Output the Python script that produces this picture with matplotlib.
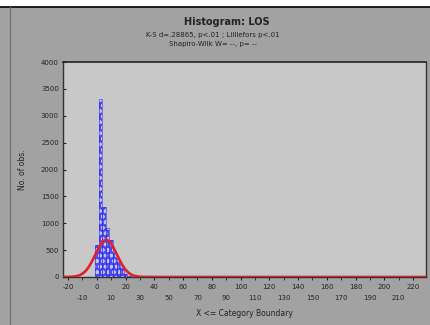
import numpy as np
import matplotlib
matplotlib.use("Agg")
import matplotlib.pyplot as plt
from matplotlib.lines import Line2D

# histogram bins (category centers) and counts
bin_centers = [0, 2.5, 5, 7.5, 10, 12.5, 15, 17.5, 20, 22.5]
counts = [600, 3320, 1300, 920, 680, 450, 280, 170, 60, 20]
bin_width = 2.5

# fitted normal curve (expected counts)
fit_mean = 6.5
fit_sd = 7.5
fit_peak = 690

major_ticks = list(range(-20, 221, 20))
minor_ticks = list(range(-10, 211, 20))
y_ticks = list(range(0, 4001, 500))

fig = plt.figure(figsize=(4.3, 3.25), dpi=100)
fig.patch.set_facecolor("#a2a2a2")

# white strip and black rule at the top, dark left border
fig.patches.append(plt.Rectangle((0, 0.978), 1, 0.022, transform=fig.transFigure,
                                 facecolor="white", edgecolor="none", zorder=0))
fig.lines.append(Line2D([0, 1], [0.977, 0.977], transform=fig.transFigure,
                        color="black", lw=1.2))
fig.lines.append(Line2D([0.024, 0.024], [0, 0.977], transform=fig.transFigure,
                        color="#6e6e6e", lw=0.8))

ax = fig.add_axes([0.1465, 0.1477, 0.8442, 0.6613])
ax.set_facecolor("#c8c8c8")

ax.bar(bin_centers, counts, width=bin_width, facecolor="#4a4af0",
       edgecolor="#c0c0ff", hatch="ooo", linewidth=0, zorder=2)
ax.bar(bin_centers, counts, width=bin_width, facecolor="none",
       edgecolor="#3030d8", linewidth=0.4, zorder=3)

x = np.linspace(-23.5, 229, 800)
y = fit_peak * np.exp(-0.5 * ((x - fit_mean) / fit_sd) ** 2)
ax.plot(x, y, color="#e0202a", lw=1.9, zorder=4)

ax.set_xlim(-23.5, 229)
ax.set_ylim(0, 4000)

ax.set_xticks(major_ticks)
ax.set_xticklabels([str(t) for t in major_ticks])
ax.set_xticks(minor_ticks, minor=True)
ax.set_xticklabels([str(t) for t in minor_ticks], minor=True)
ax.tick_params(axis="x", which="major", length=2, pad=3, labelsize=5, colors="#222222")
ax.tick_params(axis="x", which="minor", length=2, pad=11, labelsize=5, colors="#222222")
ax.set_yticks(y_ticks)
ax.tick_params(axis="y", length=2, direction="in", pad=3, labelsize=5, colors="#222222")

for side in ["left", "bottom", "right"]:
    ax.spines[side].set_color("#333333")
    ax.spines[side].set_linewidth(1.0)
ax.spines["top"].set_linestyle((0, (2, 1)))
ax.spines["top"].set_color("#222222")
ax.spines["top"].set_linewidth(1.2)

ax.set_ylabel("No. of obs.", fontsize=5.5, color="#222222", labelpad=10)
ax.set_xlabel("X <= Category Boundary", fontsize=5.5, color="#222222", labelpad=6)

fig.text(0.528, 0.933, "Histogram: LOS", ha="center", va="center",
         fontsize=7, fontweight="bold", color="#222222")
fig.text(0.495, 0.893, "K-S d=.28865, p<.01 ; Lilliefors p<.01", ha="center",
         va="center", fontsize=5, color="#222222")
fig.text(0.495, 0.866, "Shapiro-Wilk W= --, p= --", ha="center", va="center",
         fontsize=5, color="#222222")

fig.savefig("out.png", dpi=100, facecolor=fig.get_facecolor())
